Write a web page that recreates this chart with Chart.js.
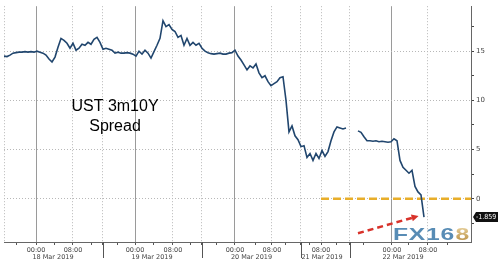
<!DOCTYPE html>
<html>
<head>
<meta charset="utf-8">
<script src="https://cdn.jsdelivr.net/npm/chart.js@4.4.1/dist/chart.umd.min.js"></script>
<style>
  html, body { margin: 0; padding: 0; background: #fff; }
  canvas { display: block; }
</style>
</head>
<body>
<canvas id="spreadChart" width="500" height="262"></canvas>
<script>
// UST 3m10Y spread, one value per time slot (null = no quotes)
const spread = [
  14.5, 14.45, 14.6, 14.8, 14.85, 14.9, 14.9, 14.95, 14.9, 14.95,
  14.9, 15.0, 14.9, 14.8, 14.6, 14.2, 13.9, 14.4, 15.4, 16.3,
  16.1, 15.8, 15.3, 15.8, 15.1, 15.3, 15.7, 15.6, 15.9, 15.7,
  16.2, 16.4, 15.9, 15.2, 15.3, 15.2, 15.1, 14.8, 14.9, 14.8,
  14.8, 14.85, 14.8, 14.7, 14.5, 15.0, 14.7, 15.1, 14.8, 14.3,
  14.95, 15.6, 16.3, 18.1, 17.5, 17.7, 17.2, 17.0, 16.4, 16.6,
  15.6, 16.3, 15.6, 15.9, 15.6, 15.8, 15.3, 15.0, 14.85, 14.75,
  14.7, 14.75, 14.8, 14.7, 14.7, 14.8, 14.85, 15.1, 14.5, 14.1,
  13.6, 13.1, 13.5, 13.3, 13.7, 12.8, 12.3, 12.5, 11.9, 11.5,
  11.7, 11.9, 12.3, 12.4, 10.0, 6.8, 7.4, 6.4, 6.0, 5.3,
  5.4, 4.2, 4.6, 3.9, 4.6, 4.1, 4.9, 4.3, 4.8, 5.9,
  6.8, 7.3, 7.2, 7.1, 7.2, null, null, null, 6.9, 6.75,
  6.3, 5.9, 5.9, 5.85, 5.9, 5.8, 5.85, 5.8, 5.75, 5.8,
  6.1, 5.9, 3.9, 3.2, 2.9, 2.6, 2.9, 1.25, 0.7, 0.4,
  -1.859
];

// x axis ticks, in time-slot units
const dayStartAt = [10.67, 43.67, 77, 129.33];          // 00:00
const hourEightAt = [23, 56.33, 89.33, 105.67, 141.33];  // 08:00
const sessionAt = [33, 66, 99, 115.33];
const minorAt = [4.33, 17, 29.33, 37.67, 50, 62.33, 70.67, 83.67, 93.67, 102, 110.67, 119.67, 135, 147.67];
const dateLabels = ['18 Mar 2019', '19 Mar 2019', '20 Mar 2019', '21 Mar 2019', '22 Mar 2019'];
const dateAt = [16.33, 49.33, 82.5, 106, 133];

// y axis
const yTicks = [-2.5, 0, 2.5, 5, 7.5, 10, 12.5, 15, 17.5];
const zeroLineFrom = 105.67;
const arrowFrom = [118, -3.5];
const arrowTo = [138.2, -1.75];

const xMax = 155.67;

const timeTicks = [{value: 0, kind: 'edge', label: ''}]
  .concat(dayStartAt.map(v => ({value: v, kind: 'day', label: '00:00'})))
  .concat(hourEightAt.map(v => ({value: v, kind: 'hour', label: '08:00'})))
  .concat(sessionAt.map(v => ({value: v, kind: 'sep', label: ''})))
  .concat(minorAt.map(v => ({value: v, kind: 'minor', label: ''})))
  .sort((a, b) => a.value - b.value);

function kindOf(ctx) {
  return ctx.type === 'tick' && timeTicks[ctx.index] ? timeTicks[ctx.index].kind : '';
}

const extras = {
  id: 'extras',
  afterDatasetsDraw(chart) {
    const {ctx, chartArea, scales: {x, y}} = chart;
    ctx.save();

    // long ticks at session breaks
    ctx.strokeStyle = '#555';
    ctx.lineWidth = 1;
    sessionAt.forEach(v => {
      const px = Math.round(x.getPixelForValue(v)) + 0.5;
      ctx.beginPath();
      ctx.moveTo(px, chartArea.bottom);
      ctx.lineTo(px, chartArea.bottom + 16);
      ctx.stroke();
    });

    // red dashed arrow
    const ax = x.getPixelForValue(arrowFrom[0]), ay = y.getPixelForValue(arrowFrom[1]);
    const bx = x.getPixelForValue(arrowTo[0]), by = y.getPixelForValue(arrowTo[1]);
    const ang = Math.atan2(by - ay, bx - ax);
    ctx.strokeStyle = '#d8322a';
    ctx.fillStyle = '#d8322a';
    ctx.lineWidth = 2.5;
    ctx.setLineDash([6, 4]);
    ctx.beginPath();
    ctx.moveTo(ax, ay);
    ctx.lineTo(bx - 5 * Math.cos(ang), by - 5 * Math.sin(ang));
    ctx.stroke();
    ctx.setLineDash([]);
    ctx.beginPath();
    ctx.moveTo(bx, by);
    ctx.lineTo(bx - 7 * Math.cos(ang) + 3.5 * Math.sin(ang), by - 7 * Math.sin(ang) - 3.5 * Math.cos(ang));
    ctx.lineTo(bx - 7 * Math.cos(ang) - 3.5 * Math.sin(ang), by - 7 * Math.sin(ang) + 3.5 * Math.cos(ang));
    ctx.closePath();
    ctx.fill();

    // title inside the plot
    ctx.fillStyle = '#000';
    ctx.font = '16px "Liberation Sans", Arial, sans-serif';
    ctx.textAlign = 'center';
    ctx.textBaseline = 'middle';
    ctx.fillText('UST 3m10Y', 115, 107);
    ctx.fillText('Spread', 115, 127);

    // watermark (wide, bold)
    ctx.save();
    ctx.translate(393, 240);
    ctx.scale(1.45, 1);
    ctx.font = 'bold 17px "Liberation Sans", Arial, sans-serif';
    ctx.textAlign = 'left';
    ctx.textBaseline = 'alphabetic';
    ctx.letterSpacing = '0.5px';
    ctx.fillStyle = 'rgba(74,130,175,0.92)';
    ctx.fillText('FX16', 0, 0);
    const w = ctx.measureText('FX16').width;
    const g = ctx.createLinearGradient(0, -13, 0, 0);
    g.addColorStop(0, '#e6cf9a');
    g.addColorStop(1, '#bf9850');
    ctx.fillStyle = g;
    ctx.fillText('8', w + 0.5, 0);
    ctx.restore();

    // last value tag
    const last = spread[spread.length - 1];
    const ly = y.getPixelForValue(last);
    const lx = chartArea.right + 2;
    ctx.fillStyle = '#111';
    ctx.beginPath();
    ctx.moveTo(lx, ly);
    ctx.lineTo(lx + 3, ly - 5);
    ctx.lineTo(lx + 25, ly - 5);
    ctx.lineTo(lx + 25, ly + 5);
    ctx.lineTo(lx + 3, ly + 5);
    ctx.closePath();
    ctx.fill();
    ctx.fillStyle = '#fff';
    ctx.font = '7px "DejaVu Sans Condensed", "DejaVu Sans", sans-serif';
    ctx.textAlign = 'left';
    ctx.textBaseline = 'middle';
    ctx.fillText(last.toFixed(3), lx + 3, ly + 0.5);

    ctx.restore();
  }
};

const chart = new Chart(document.getElementById('spreadChart').getContext('2d'), {
  type: 'line',
  data: {
    datasets: [
      {
        label: 'UST 3m10Y Spread',
        data: spread.map((v, i) => ({x: i, y: v})),
        borderColor: '#21466e',
        borderWidth: 1.6,
        pointRadius: 0,
        spanGaps: false,
        tension: 0
      },
      {
        label: 'zero',
        data: [{x: zeroLineFrom, y: 0}, {x: xMax, y: 0}],
        borderColor: '#e8ae2a',
        borderWidth: 2.5,
        borderDash: [8, 4],
        pointRadius: 0
      }
    ]
  },
  options: {
    responsive: false,
    animation: false,
    layout: {padding: {left: 4, top: 0, right: 0, bottom: 0}},
    plugins: {legend: {display: false}, tooltip: {enabled: false}},
    scales: {
      x: {
        type: 'linear',
        position: 'bottom',
        weight: 0,
        min: 0,
        max: xMax,
        afterBuildTicks: s => { s.ticks = timeTicks.map(t => ({value: t.value})); },
        afterFit: s => { s.height = 11; },
        ticks: {
          autoSkip: false,
          maxRotation: 0,
          padding: 1,
          color: '#444',
          font: {family: 'DejaVu Sans', size: 6.5},
          callback: (v, i) => timeTicks[i] ? timeTicks[i].label : ''
        },
        grid: {
          color: ctx => {
            const k = kindOf(ctx);
            if (k === 'day') return '#9a9a9a';
            if (k === 'hour' || k === 'sep' || k === 'edge') return '#b8b8b8';
            return 'rgba(0,0,0,0)';
          },
          lineWidth: 1,
          tickLength: 3,
          tickColor: ctx => (kindOf(ctx) === 'edge' ? 'rgba(0,0,0,0)' : '#555'),
          tickBorderDash: []
        },
        border: {
          display: true,
          color: '#666',
          width: 1,
          dash: ctx => (ctx.type === 'tick' && kindOf(ctx) !== 'day' ? [1, 2] : [])
        }
      },
      xd: {
        type: 'linear',
        position: 'bottom',
        weight: 1,
        min: 0,
        max: xMax,
        afterBuildTicks: s => { s.ticks = dateAt.map(v => ({value: v})); },
        afterFit: s => { s.height = 9; },
        ticks: {
          autoSkip: false,
          maxRotation: 0,
          padding: 0,
          color: '#444',
          font: {family: 'DejaVu Sans', size: 6.5},
          callback: (v, i) => dateLabels[i]
        },
        grid: {drawOnChartArea: false, drawTicks: false},
        border: {display: false}
      },
      y: {
        type: 'linear',
        position: 'right',
        min: -4.39,
        max: 19.57,
        afterBuildTicks: s => { s.ticks = yTicks.map(v => ({value: v})); },
        afterFit: s => { s.width = 29; },
        ticks: {
          padding: 2,
          color: '#444',
          font: {family: 'DejaVu Sans', size: 7},
          callback: v => (v % 5 === 0 ? String(v) : '')
        },
        grid: {
          color: ctx => (ctx.tick && ctx.tick.value % 5 === 0 ? '#b8b8b8' : 'rgba(0,0,0,0)'),
          tickLength: 3,
          tickColor: '#444'
        },
        border: {
          display: true,
          color: '#666',
          width: 1,
          dash: ctx => (ctx.type === 'tick' ? [1, 2] : [])
        }
      }
    }
  },
  plugins: [extras]
});
</script>
</body>
</html>
